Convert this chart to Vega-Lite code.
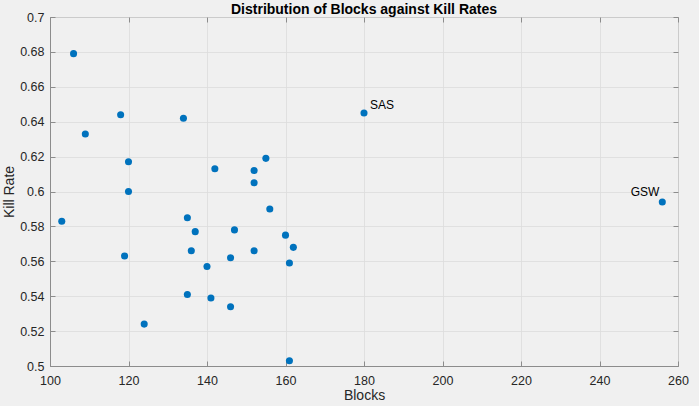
{
  "$schema": "https://vega.github.io/schema/vega-lite/v6.json",
  "width": 628,
  "height": 349,
  "autosize": "none",
  "padding": {"left": 50, "top": 17, "right": 21, "bottom": 40},
  "background": "#F0F0F0",
  "title": {"text": "Distribution of Blocks against Kill Rates", "font": "Liberation Sans", "fontSize": 14, "fontWeight": "bold", "color": "#000000", "offset": -6, "anchor": "middle"},
  "config": {
    "view": {"stroke": "#8c8c8c", "strokeWidth": 1},
    "axis": {"labelFont": "Liberation Sans", "titleFont": "Liberation Sans", "labelFontSize": 12.5, "titleFontSize": 14, "labelColor": "#262626", "titleColor": "#262626", "titleFontWeight": "normal", "domainColor": "#8c8c8c", "tickColor": "#8c8c8c", "gridColor": "#dcdcdc", "gridWidth": 0.8, "tickSize": -5}
  },
  "data": {"values": [
    {"team": "", "blocks": 106, "kill": 0.679},
    {"team": "", "blocks": 109, "kill": 0.633},
    {"team": "", "blocks": 118, "kill": 0.644},
    {"team": "", "blocks": 120, "kill": 0.617},
    {"team": "", "blocks": 120, "kill": 0.600},
    {"team": "", "blocks": 134, "kill": 0.642},
    {"team": "", "blocks": 142, "kill": 0.613},
    {"team": "", "blocks": 152, "kill": 0.612},
    {"team": "", "blocks": 152, "kill": 0.605},
    {"team": "", "blocks": 155, "kill": 0.619},
    {"team": "SAS", "blocks": 180, "kill": 0.645},
    {"team": "GSW", "blocks": 256, "kill": 0.594},
    {"team": "", "blocks": 103, "kill": 0.583},
    {"team": "", "blocks": 119, "kill": 0.563},
    {"team": "", "blocks": 124, "kill": 0.524},
    {"team": "", "blocks": 135, "kill": 0.585},
    {"team": "", "blocks": 137, "kill": 0.577},
    {"team": "", "blocks": 136, "kill": 0.566},
    {"team": "", "blocks": 140, "kill": 0.557},
    {"team": "", "blocks": 135, "kill": 0.541},
    {"team": "", "blocks": 141, "kill": 0.539},
    {"team": "", "blocks": 146, "kill": 0.534},
    {"team": "", "blocks": 146, "kill": 0.562},
    {"team": "", "blocks": 147, "kill": 0.578},
    {"team": "", "blocks": 152, "kill": 0.566},
    {"team": "", "blocks": 156, "kill": 0.590},
    {"team": "", "blocks": 160, "kill": 0.575},
    {"team": "", "blocks": 162, "kill": 0.568},
    {"team": "", "blocks": 161, "kill": 0.559},
    {"team": "", "blocks": 161, "kill": 0.503}
  ]},
  "layer": [
    {
      "mark": {"type": "circle", "size": 50, "color": "#0072BD", "opacity": 1},
      "encoding": {
        "x": {"field": "blocks", "type": "quantitative", "scale": {"domain": [100, 260], "nice": false, "zero": false}, "axis": {"title": "Blocks", "values": [100,120,140,160,180,200,220,240,260], "labelPadding": 13, "titlePadding": 2, "labelFlush": false}},
        "y": {"field": "kill", "type": "quantitative", "scale": {"domain": [0.5, 0.7], "nice": false, "zero": false}, "axis": {"title": "Kill Rate", "values": [0.5,0.52,0.54,0.56,0.58,0.6,0.62,0.64,0.66,0.68,0.7], "format": "~g", "labelPadding": 11, "titlePadding": 3, "labelFlush": false}}
      }
    },
    {
      "transform": [{"filter": "datum.team == 'SAS'"}],
      "mark": {"type": "text", "align": "left", "baseline": "alphabetic", "dx": 6, "dy": -4, "font": "Liberation Sans", "fontSize": 12, "color": "#000000"},
      "encoding": {
        "x": {"field": "blocks", "type": "quantitative", "axis": {"orient": "top", "values": [100,120,140,160,180,200,220,240,260], "labels": false, "title": null, "grid": false, "domain": false, "labelPadding": 0}},
        "y": {"field": "kill", "type": "quantitative", "axis": {"orient": "right", "values": [0.5,0.52,0.54,0.56,0.58,0.6,0.62,0.64,0.66,0.68,0.7], "labels": false, "title": null, "grid": false, "domain": false}},
        "text": {"field": "team"}
      }
    },
    {
      "transform": [{"filter": "datum.team == 'GSW'"}],
      "mark": {"type": "text", "align": "right", "baseline": "alphabetic", "dx": -3, "dy": -6, "font": "Liberation Sans", "fontSize": 12, "color": "#000000"},
      "encoding": {
        "x": {"field": "blocks", "type": "quantitative", "axis": null},
        "y": {"field": "kill", "type": "quantitative", "axis": null},
        "text": {"field": "team"}
      }
    }
  ],
  "resolve": {"axis": {"x": "independent", "y": "independent"}}
}
